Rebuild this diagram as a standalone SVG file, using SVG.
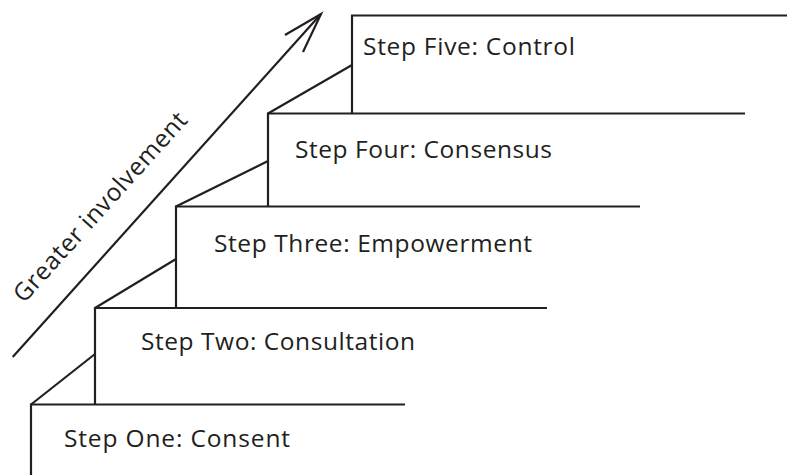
<svg xmlns="http://www.w3.org/2000/svg" width="787" height="475" viewBox="0 0 787 475">
<style>
.ln{fill:none;stroke:#231f20;stroke-width:2.2;stroke-linecap:butt;stroke-linejoin:miter}
.t{font-family:"Open Sans","Noto Sans","DejaVu Sans",sans-serif;font-size:24.5px;fill:#231f20}
</style>
<rect width="787" height="475" fill="#fff"/>
<g id="step1">
<path class="ln" d="M31,475 V404.5 H405"/>
<text class="t" x="64" y="447" textLength="226" lengthAdjust="spacing">Step One: Consent</text>
</g>
<g id="step2">
<path class="ln" d="M95,404.5 V308 H547"/>
<text class="t" x="141" y="350" textLength="274" lengthAdjust="spacing">Step Two: Consultation</text>
</g>
<g id="step3">
<path class="ln" d="M176,308 V206.5 H640"/>
<text class="t" x="214" y="252" textLength="318" lengthAdjust="spacing">Step Three: Empowerment</text>
</g>
<g id="step4">
<path class="ln" d="M268,206.5 V113.5 H745"/>
<text class="t" x="295" y="158" textLength="257" lengthAdjust="spacing">Step Four: Consensus</text>
</g>
<g id="step5">
<path class="ln" d="M352,113.5 V15.5 H787"/>
<text class="t" x="363" y="55" textLength="212" lengthAdjust="spacing">Step Five: Control</text>
</g>
<g id="connectors">
<path class="ln" d="M31,404.5 L95,354"/>
<path class="ln" d="M95,308 L176,259"/>
<path class="ln" d="M176,206.5 L268,161"/>
<path class="ln" d="M268,113.5 L352,65"/>
<path class="ln" d="M12.7,357 L321,14"/>
<path class="ln" d="M285,35 L321,14 L303,52"/>
</g>
<g id="label">
<text class="t" transform="translate(24,304) rotate(-48)" textLength="246" lengthAdjust="spacing">Greater involvement</text>
</g>
</svg>
